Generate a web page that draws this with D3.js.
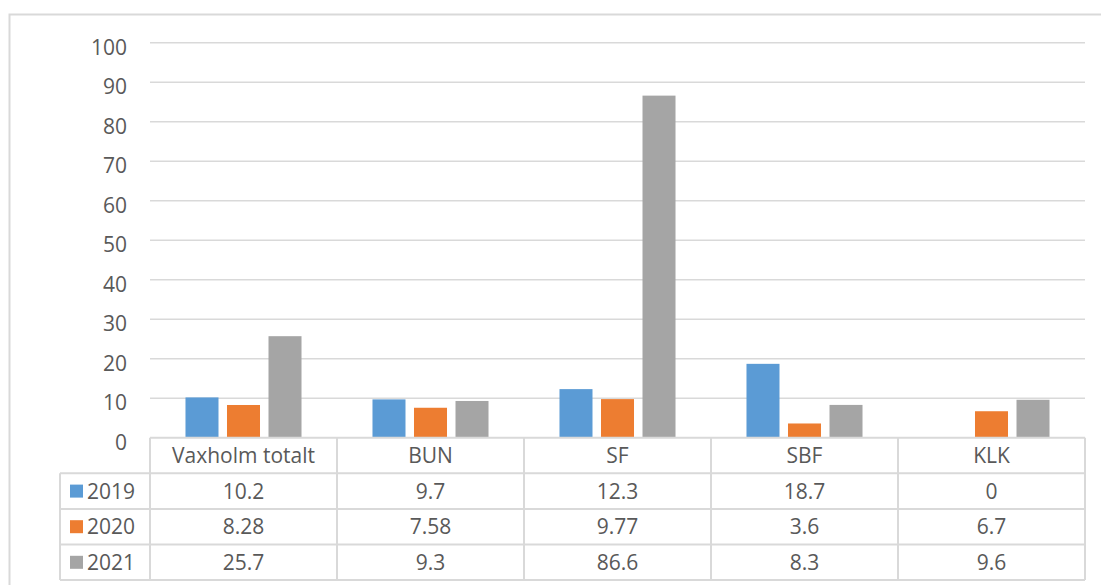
<!DOCTYPE html>
<html><head><meta charset="utf-8">
<script src="https://cdn.jsdelivr.net/npm/d3@7"></script>
<style>
html,body{margin:0;padding:0;background:#fff;}
svg{display:block;font-family:"Open Sans",sans-serif;}
</style></head>
<body>
<svg id="c" width="1101" height="585"></svg>
<script>
const categories = ["Vaxholm totalt","BUN","SF","SBF","KLK"];
const seriesNames = ["2019","2020","2021"];
const values2019 = [10.2, 9.7, 12.3, 18.7, 0];
const values2020 = [8.28, 7.58, 9.77, 3.6, 6.7];
const values2021 = [25.7, 9.3, 86.6, 8.3, 9.6];
const tableText2019 = ["10.2","9.7","12.3","18.7","0"];
const tableText2020 = ["8.28","7.58","9.77","3.6","6.7"];
const tableText2021 = ["25.7","9.3","86.6","8.3","9.6"];
const yTicks = [0,10,20,30,40,50,60,70,80,90,100];
const colors = ["#5b9bd5","#ed7d31","#a5a5a5"];

const series = [values2019, values2020, values2021];
const tableTexts = [tableText2019, tableText2020, tableText2021];

const svg = d3.select("#c");
const textColor = "#595959";
const lineColor = "#d9d9d9";
const fs = 21;

// outer border
svg.append("rect").attr("x",9.5).attr("y",14.5).attr("width",1200).attr("height",700)
  .attr("fill","none").attr("stroke",lineColor).attr("stroke-width",2);

const x0 = d3.scaleBand().domain(categories).range([150,1085]).padding(0);
const x1 = d3.scaleBand().domain(seriesNames).range([0,x0.bandwidth()]).paddingInner(0.2048).paddingOuter(0.855);
const y = d3.scaleLinear().domain([0,100]).range([437.7,42.7]);

// gridlines
svg.append("g").selectAll("line").data(yTicks.filter(d=>d>0)).join("line")
  .attr("x1",150).attr("x2",1085).attr("y1",d=>y(d)).attr("y2",d=>y(d))
  .attr("stroke",lineColor).attr("stroke-width",1.5);

// y axis labels
const yAxis = d3.axisLeft(y).tickValues(yTicks).tickSize(0).tickPadding(0);
const ga = svg.append("g").attr("transform","translate(127,0)").call(yAxis);
ga.select(".domain").remove();
ga.selectAll("text").attr("font-size",fs).attr("font-family","Open Sans").attr("fill",textColor).attr("dy","0.55em");

// bars
const g = svg.append("g");
categories.forEach((c,i)=>{
  seriesNames.forEach((s,j)=>{
    const v = series[j][i];
    g.append("rect").attr("x",x0(c)+x1(s)).attr("width",x1.bandwidth())
      .attr("y",y(v)).attr("height",y(0)-y(v)).attr("fill",colors[j]);
  });
});

// data table
const tTop = 437.7, rowH = 35.6, tLeft = 60;
const t = svg.append("g");
const lw = 2;
t.append("line").attr("x1",150).attr("x2",1085).attr("y1",tTop).attr("y2",tTop).attr("stroke",lineColor).attr("stroke-width",lw);
for(let r=1;r<=4;r++){
  t.append("line").attr("x1",tLeft).attr("x2",1085).attr("y1",tTop+r*rowH).attr("y2",tTop+r*rowH).attr("stroke",lineColor).attr("stroke-width",lw);
}
t.append("line").attr("x1",tLeft).attr("x2",tLeft).attr("y1",tTop+rowH).attr("y2",tTop+4*rowH).attr("stroke",lineColor).attr("stroke-width",lw);
const colEdges = categories.map(c=>x0(c)).concat([1085]);
colEdges.forEach(xe=>{
  t.append("line").attr("x1",xe).attr("x2",xe).attr("y1",tTop).attr("y2",tTop+4*rowH).attr("stroke",lineColor).attr("stroke-width",lw);
});
categories.forEach(c=>{
  t.append("text").attr("x",x0(c)+x0.bandwidth()/2).attr("y",tTop+rowH/2).attr("dy","0.36em")
    .attr("text-anchor","middle").attr("font-size",fs).attr("fill",textColor).text(c);
});
seriesNames.forEach((s,j)=>{
  const cy = tTop+(j+1)*rowH+rowH/2;
  t.append("rect").attr("x",70).attr("y",cy-6.5).attr("width",13).attr("height",13).attr("fill",colors[j]);
  t.append("text").attr("x",87).attr("y",cy).attr("dy","0.36em").attr("font-size",fs).attr("fill",textColor).text(s);
  categories.forEach((c,i)=>{
    t.append("text").attr("x",x0(c)+x0.bandwidth()/2).attr("y",cy).attr("dy","0.36em")
      .attr("text-anchor","middle").attr("font-size",fs).attr("fill",textColor).text(tableTexts[j][i]);
  });
});
</script>
</body></html>
